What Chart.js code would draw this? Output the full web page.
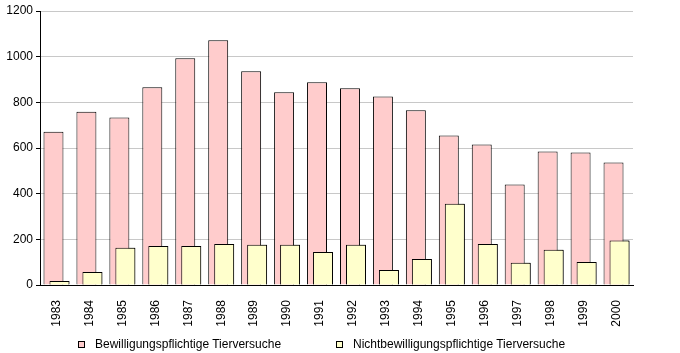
<!DOCTYPE html>
<html>
<head>
<meta charset="utf-8">
<script src="https://cdn.jsdelivr.net/npm/chart.js@4/dist/chart.umd.min.js"></script>
<style>
  body { margin: 0; background: #fff; }
  #wrap { position: relative; width: 680px; height: 353px; }
  #legend { position: absolute; top: 337px; left: 0; width: 680px; height: 14px;
    font-family: "Liberation Sans", Arial, sans-serif; font-size: 12px; color: #000; }
  .item { position: absolute; display: flex; align-items: center; line-height: 14px; white-space: nowrap; }
  .box { width: 5px; height: 5px; border: 1px solid #000; margin-right: 10px; }
</style>
</head>
<body>
<div id="wrap">
  <canvas id="chart" width="680" height="353"></canvas>
  <div id="legend"></div>
</div>
<script>
const years = ['1983', '1984', '1985', '1986', '1987', '1988', '1989', '1990', '1991',
  '1992', '1993', '1994', '1995', '1996', '1997', '1998', '1999', '2000']
const bewilligungspflichtig = [671, 759, 734, 866, 993, 1072, 936, 844, 888, 862, 826, 765, 655, 615, 440, 585, 580, 536]
const nichtBewilligungspflichtig = [18, 57, 163, 171, 171, 180, 176, 176, 145, 176, 66, 114, 356, 180, 97, 154, 101, 195]
const seriesNames = ['Bewilligungspflichtige Tierversuche', 'Nichtbewilligungspflichtige Tierversuche']
const yTicks = [0, 200, 400, 600, 800, 1000, 1200]

const colors = ['#ffcccc', '#ffffcc']

// yellow bars sit in front of the pink ones, so draw them again on top
const frontBars = {
  id: 'frontBars',
  afterDatasetsDraw(chart) {
    chart.getDatasetMeta(1).controller.draw()
  }
}

const chart = new Chart(document.getElementById('chart'), {
  type: 'bar',
  data: {
    labels: years,
    datasets: [{
      label: seriesNames[0],
      data: bewilligungspflichtig,
      backgroundColor: colors[0],
      borderColor: '#000',
      borderWidth: 1
    }, {
      label: seriesNames[1],
      data: nichtBewilligungspflichtig,
      backgroundColor: colors[1],
      borderColor: '#000',
      borderWidth: 1
    }]
  },
  options: {
    responsive: false,
    animation: false,
    devicePixelRatio: 1,
    categoryPercentage: 0.364,
    barPercentage: 3.33,
    layout: { padding: { top: 11, right: 47, bottom: 24, left: 0 } },
    plugins: {
      legend: { display: false },
      tooltip: { enabled: false }
    },
    scales: {
      x: {
        grid: { display: false },
        border: { color: '#000', width: 1 },
        ticks: {
          minRotation: 90,
          maxRotation: 90,
          padding: 7,
          color: '#000',
          font: { family: '"Liberation Sans", Arial, sans-serif', size: 12 }
        },
        afterFit: scale => { scale.height = 44 }
      },
      y: {
        min: yTicks[0],
        max: yTicks[yTicks.length - 1],
        grid: { color: '#c8c8c8', tickColor: '#000', tickLength: 4 },
        border: { color: '#000', width: 1 },
        afterBuildTicks: scale => { scale.ticks = yTicks.map(v => ({ value: v })) },
        ticks: {
          padding: 3,
          color: '#000',
          font: { family: '"Liberation Sans", Arial, sans-serif', size: 12 },
          callback: v => String(v)
        },
        afterFit: scale => { scale.width = 40 }
      }
    }
  },
  plugins: [frontBars]
})

// legend below the chart
const legendLeft = [78, 336]
const legend = document.getElementById('legend')
chart.data.datasets.forEach((ds, i) => {
  const item = document.createElement('div')
  item.className = 'item'
  item.style.left = legendLeft[i] + 'px'
  const box = document.createElement('span')
  box.className = 'box'
  box.style.background = ds.backgroundColor
  item.appendChild(box)
  item.appendChild(document.createTextNode(ds.label))
  legend.appendChild(item)
})
</script>
</body>
</html>
